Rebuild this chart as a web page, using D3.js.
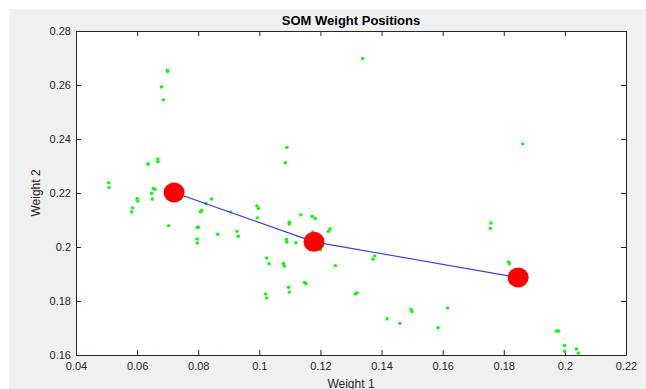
<!DOCTYPE html>
<html>
<head>
<meta charset="utf-8">
<script src="https://cdn.jsdelivr.net/npm/d3@7"></script>
<style>
  body { margin: 0; background: #fff; }
  text { font-family: "Liberation Sans", Arial, sans-serif; fill: #262626; }
</style>
</head>
<body>
<div id="chart"></div>
<script>
// input points (weight 1 / weight 2)
var inputX = [0.0507, 0.0508, 0.0635, 0.0637, 0.0668, 0.0668, 0.0699, 0.0700, 0.0680, 0.0686,
   0.0600, 0.0602, 0.0585, 0.0582, 0.0647, 0.0650, 0.0653, 0.0658, 0.0703, 0.0742,
   0.0797, 0.0800, 0.0796, 0.0797, 0.0807, 0.0811, 0.0825, 0.0844, 0.0864, 0.0906,
   0.0927, 0.0931, 0.0992, 0.0997, 0.0993, 0.1024, 0.1032, 0.1020, 0.1024, 0.1090,
   0.1085, 0.1098, 0.1098, 0.1089, 0.1090, 0.1079, 0.1082, 0.1096, 0.1098, 0.1136,
   0.1120, 0.1148, 0.1152, 0.1173, 0.1183, 0.1175, 0.1200, 0.1226, 0.1231, 0.1249,
   0.1314, 0.1320, 0.1338, 0.1372, 0.1377, 0.1418, 0.1460, 0.1496, 0.1499, 0.1585,
   0.1616, 0.1758, 0.1756, 0.1816, 0.1818, 0.1862, 0.1972, 0.1979, 0.1999, 0.1999,
   0.2038, 0.2044];
var inputY = [0.2238, 0.2220, 0.2308, 0.2307, 0.2326, 0.2316, 0.2655, 0.2651, 0.2593, 0.2545,
   0.2180, 0.2170, 0.2145, 0.2130, 0.2199, 0.2178, 0.2217, 0.2214, 0.2079, 0.2180,
   0.2073, 0.2073, 0.2030, 0.2015, 0.2131, 0.2135, 0.2161, 0.2178, 0.2047, 0.2130,
   0.2058, 0.2040, 0.2152, 0.2143, 0.2108, 0.1959, 0.1938, 0.1826, 0.1811, 0.2369,
   0.2312, 0.2092, 0.2085, 0.2028, 0.2018, 0.1939, 0.1929, 0.1851, 0.1833, 0.2119,
   0.2016, 0.1869, 0.1864, 0.2113, 0.2106, 0.2056, 0.1990, 0.2058, 0.2067, 0.1931,
   0.1826, 0.1830, 0.2698, 0.1955, 0.1967, 0.1734, 0.1717, 0.1769, 0.1761, 0.1701,
   0.1774, 0.2089, 0.2069, 0.1945, 0.1938, 0.2382, 0.1689, 0.1689, 0.1635, 0.1614,
   0.1622, 0.1607];

// SOM neuron weights
var somX = [0.0721, 0.1179, 0.1847];
var somY = [0.2202, 0.2019, 0.1887];

var xTicks = [0.04, 0.06, 0.08, 0.1, 0.12, 0.14, 0.16, 0.18, 0.2, 0.22];
var yTicks = [0.16, 0.18, 0.2, 0.22, 0.24, 0.26, 0.28];

var svgWidth = 646;
var svgHeight = 389;

var margin = { top: 31, right: 20, bottom: 34, left: 76 };
var width = 626 - margin.left;
var height = 355 - margin.top;

var svg = d3.select("#chart")
   .append("svg")
   .attr("width", svgWidth)
   .attr("height", svgHeight);

// grey figure background
svg.append("rect")
   .attr("x", 9)
   .attr("y", 9)
   .attr("width", svgWidth - 9)
   .attr("height", svgHeight - 9)
   .attr("fill", "#f0f0f0");

var chartGroup = svg.append("g")
   .attr("transform", `translate(${margin.left}, ${margin.top})`);

chartGroup.append("rect")
   .attr("width", width)
   .attr("height", height)
   .attr("fill", "#fff");

var xScale = d3.scaleLinear().domain([0.04, 0.22]).range([0, width]);
var yScale = d3.scaleLinear().domain([0.16, 0.28]).range([height, 0]);

var fmt = d => d3.format("")(+d.toFixed(2));

function styleAxis(g) {
   g.select(".domain").attr("stroke", "#262626");
   g.selectAll(".tick line").attr("stroke", "#262626");
   g.selectAll(".tick text").attr("font-size", "11px").attr("fill", "#262626")
      .style("font-family", "'Liberation Sans', Arial, sans-serif");
}

// bottom / left axes with labels, inward ticks
chartGroup.append("g")
   .attr("transform", `translate(0, ${height})`)
   .call(d3.axisBottom(xScale).tickValues(xTicks).tickFormat(fmt).tickSize(-5).tickSizeOuter(0).tickPadding(7))
   .call(styleAxis);

chartGroup.append("g")
   .call(d3.axisLeft(yScale).tickValues(yTicks).tickFormat(fmt).tickSize(-5).tickSizeOuter(0).tickPadding(5))
   .call(styleAxis);

// top / right axes, ticks only
chartGroup.append("g")
   .call(d3.axisTop(xScale).tickValues(xTicks).tickFormat("").tickSize(-5).tickSizeOuter(0))
   .call(styleAxis);

chartGroup.append("g")
   .attr("transform", `translate(${width}, 0)`)
   .call(d3.axisRight(yScale).tickValues(yTicks).tickFormat("").tickSize(-5).tickSizeOuter(0))
   .call(styleAxis);

// input points
chartGroup.selectAll(".pt")
   .data(inputX)
   .enter()
   .append("circle")
   .attr("class", "pt")
   .attr("cx", (d, i) => xScale(d))
   .attr("cy", (d, i) => yScale(inputY[i]))
   .attr("r", 1.7)
   .attr("fill", "#00ff00");

// neuron connection line
var line = d3.line()
   .x((d, i) => xScale(somX[i]))
   .y((d, i) => yScale(somY[i]));

chartGroup.append("path")
   .datum(somX)
   .attr("d", line)
   .attr("fill", "none")
   .attr("stroke", "#3b3bdc")
   .attr("stroke-width", 1.1);

// neurons
chartGroup.selectAll(".som")
   .data(somX)
   .enter()
   .append("ellipse")
   .attr("class", "som")
   .attr("cx", d => xScale(d))
   .attr("cy", (d, i) => yScale(somY[i]))
   .attr("rx", 10.5)
   .attr("ry", 10)
   .attr("fill", "#ff0000");

// title and axis labels
svg.append("text")
   .attr("x", margin.left + width / 2)
   .attr("y", 25)
   .attr("text-anchor", "middle")
   .attr("font-size", "13px")
   .attr("font-weight", "bold")
   .style("fill", "#000")
   .text("SOM Weight Positions");

svg.append("text")
   .attr("x", margin.left + width / 2)
   .attr("y", 388)
   .attr("text-anchor", "middle")
   .attr("font-size", "12px")
   .text("Weight 1");

svg.append("text")
   .attr("transform", `translate(40, ${margin.top + height / 2}) rotate(-90)`)
   .attr("text-anchor", "middle")
   .attr("font-size", "12px")
   .text("Weight 2");
</script>
</body>
</html>
